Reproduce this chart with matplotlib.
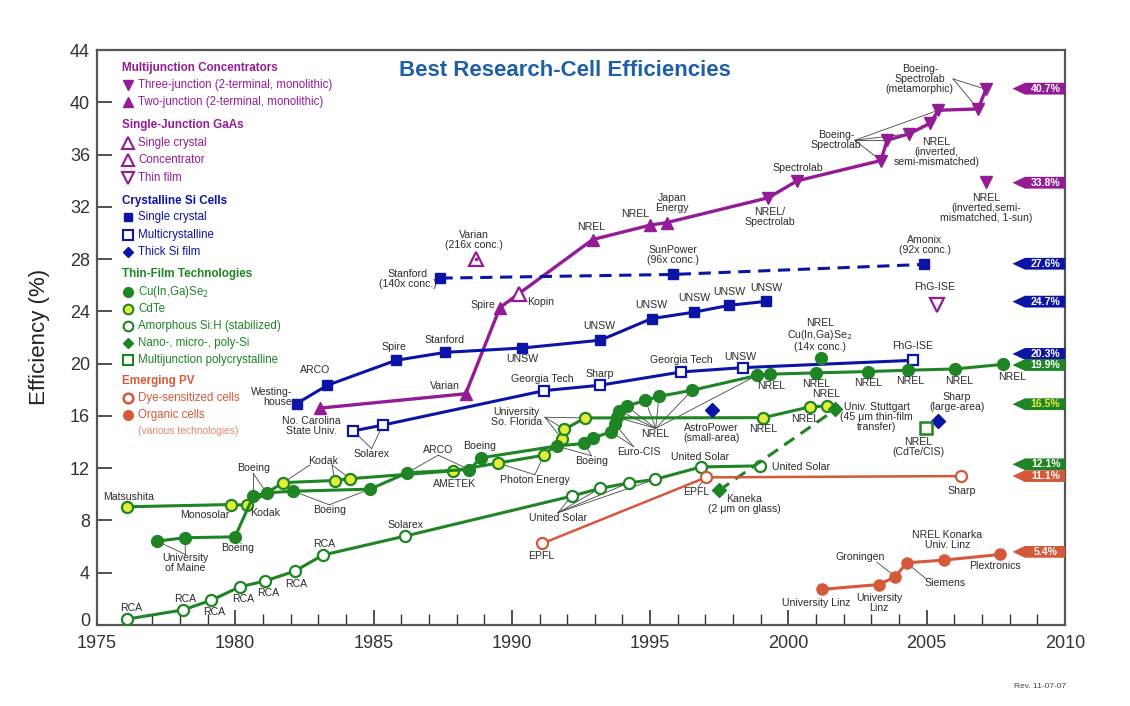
import matplotlib
matplotlib.use("Agg")
import matplotlib.pyplot as plt
from matplotlib import font_manager
from matplotlib.patches import Polygon
from matplotlib.lines import Line2D
from matplotlib.transforms import offset_copy

# pick a narrow Arial-like face if it is there
names = {f.name for f in font_manager.fontManager.ttflist}
NARROW = "Liberation Sans Narrow" if "Liberation Sans Narrow" in names else "Liberation Sans"
plt.rcParams["font.family"] = ["Liberation Sans", "DejaVu Sans"]

# ---- data ----
mj2_year = [1983.06, 1988.33, 1989.57, 1992.92, 1994.99, 1995.6]
mj2_eff = [16.6, 17.7, 24.3, 29.5, 30.6, 30.8]
mj3_year = [1999.27, 2000.32, 2003.34, 2003.57, 2004.37, 2005.12, 2005.42, 2006.86, 2007.14]
mj3_eff = [32.7, 34.0, 35.55, 37.1, 37.6, 38.4, 39.4, 39.5, 41.0]
mj3_1sun_year = [2007.14]
mj3_1sun_eff = [33.9]

gaas_single_year = [1990.26]
gaas_single_eff = [25.3]
gaas_conc_year = [1988.69]
gaas_conc_eff = [28.0]
gaas_thin_year = [2005.37]
gaas_thin_eff = [24.5]

si_single_year = [1982.22, 1983.33, 1985.81, 1987.6, 1990.37, 1993.2, 1995.05, 1996.6, 1997.86, 1999.19]
si_single_eff = [16.95, 18.35, 20.26, 20.87, 21.2, 21.8, 23.45, 23.95, 24.47, 24.77]
si_conc_year = [1987.42, 1995.81, 2004.91]
si_conc_eff = [26.55, 26.83, 27.6]
si_multi_year = [1984.27, 1985.33, 1991.17, 1993.18, 1996.13, 1998.36, 2004.51]
si_multi_eff = [14.86, 15.3, 17.94, 18.35, 19.37, 19.7, 20.26]
si_thick_year = [1997.22, 2005.42]
si_thick_eff = [16.44, 15.6]

cigs_year = [1977.16, 1978.18, 1979.99, 1980.65, 1981.13, 1982.1, 1984.87, 1986.22, 1988.46,
             1988.9, 1991.62, 1992.62, 1992.94, 1993.58, 1993.73, 1993.79, 1993.87, 1994.15,
             1994.83, 1995.32, 1996.52, 1998.86, 1999.33, 2001.01, 2002.88, 2004.33, 2006.04, 2007.75]
cigs_eff = [6.42, 6.68, 6.75, 9.86, 10.12, 10.24, 10.4, 11.65, 11.9,
            12.8, 13.7, 13.9, 14.3, 14.8, 15.4, 15.9, 16.4, 16.75,
            17.2, 17.5, 17.97, 19.1, 19.2, 19.3, 19.4, 19.5, 19.6, 19.95]
cigs_conc_year = [2001.17]
cigs_conc_eff = [20.45]

cdte_year = [1976.1, 1979.83, 1980.41, 1981.74, 1983.6, 1984.15, 1987.88, 1989.5, 1991.16,
             1991.82, 1991.9, 1992.64, 1999.09, 2000.78, 2001.38]
cdte_eff = [9.05, 9.22, 9.17, 10.9, 11.06, 11.2, 11.8, 12.4, 13.0,
            14.2, 14.97, 15.85, 15.87, 16.7, 16.77]

asi_year = [1976.1, 1978.1, 1979.14, 1980.17, 1981.07, 1982.16, 1983.16, 1986.13, 1992.16,
            1993.18, 1994.23, 1995.17, 1996.84, 1998.97]
asi_eff = [0.46, 1.15, 1.9, 2.93, 3.36, 4.13, 5.35, 6.8, 9.86,
           10.45, 10.88, 11.14, 12.1, 12.18]

nano_year = [1997.49, 2001.7]
nano_eff = [10.3, 16.5]
mjpoly_year = [2004.99]
mjpoly_eff = [15.1]

dsc_year = [1991.1, 1997.02, 2006.24]
dsc_eff = [6.24, 11.3, 11.4]
org_year = [2001.22, 2003.28, 2003.87, 2004.27, 2005.63, 2007.65]
org_eff = [2.73, 3.1, 3.7, 4.76, 4.97, 5.4]

record_vals = [40.7, 33.8, 27.6, 24.7, 20.3, 19.9, 16.5, 12.1, 11.1, 5.4]
record_groups = ["mj", "mj", "si", "si", "si", "tf", "tf", "tf", "em", "em"]

PURPLE = "#931C96"
BLUE = "#0C14A6"
GREEN = "#1E8424"
YELLOW = "#E4EE3A"
ORANGE = "#D4583A"
TXT = "#2b2b2b"
group_col = {"mj": PURPLE, "si": BLUE, "tf": GREEN, "em": ORANGE}

fig = plt.figure(figsize=(11.3, 7.06), dpi=100)
ax = fig.add_axes([0.0858, 0.1147, 0.8567, 0.8143])
ax.set_xlim(1975, 2010)
ax.set_ylim(0, 44)

# ---- series ----
ax.plot(mj2_year + mj3_year, mj2_eff + mj3_eff, "-", color=PURPLE, lw=2.4, zorder=3)
ax.plot(mj2_year, mj2_eff, "^", color=PURPLE, ms=9, zorder=4)
ax.plot(mj3_year, mj3_eff, "v", color=PURPLE, ms=9, zorder=4)
ax.plot(mj3_1sun_year, mj3_1sun_eff, "v", color=PURPLE, ms=9, zorder=4)
ax.plot(gaas_single_year, gaas_single_eff, "^", mfc="white", mec=PURPLE, mew=1.6, ms=10, zorder=4)
ax.plot(gaas_conc_year, gaas_conc_eff, "^", mfc="white", mec=PURPLE, mew=1.6, ms=10, zorder=4)
ax.plot(gaas_conc_year, gaas_conc_eff, ".", color=PURPLE, ms=3, zorder=5)
ax.plot(gaas_thin_year, gaas_thin_eff, "v", mfc="white", mec=PURPLE, mew=1.6, ms=10, zorder=4)

ax.plot(si_single_year, si_single_eff, "-s", color=BLUE, lw=2.2, ms=7, zorder=3)
ax.plot(si_conc_year, si_conc_eff, "--s", color=BLUE, lw=2.2, ms=7, dashes=(4, 2.5), zorder=3)
ax.plot(si_multi_year, si_multi_eff, "-s", color=BLUE, lw=2.2, ms=7.5, mfc="white", mew=1.6, zorder=3)
ax.plot(si_thick_year, si_thick_eff, "D", color=BLUE, ms=7, zorder=4)

ax.plot(asi_year, asi_eff, "-o", color=GREEN, lw=2.2, ms=8, mfc="white", mew=1.6, zorder=3)
ax.plot(cdte_year, cdte_eff, "-o", color=GREEN, lw=2.2, ms=8, mfc=YELLOW, mew=1.6, zorder=3)
ax.plot(cigs_year, cigs_eff, "-o", color=GREEN, lw=2.2, ms=8.5, zorder=3)
ax.plot(cigs_conc_year, cigs_conc_eff, "o", color=GREEN, ms=8.5, zorder=4)
ax.plot(nano_year, nano_eff, "--D", color=GREEN, lw=2.2, ms=7, dashes=(4, 2.5), zorder=3)
ax.plot(mjpoly_year, mjpoly_eff, "s", mfc="white", mec=GREEN, mew=1.8, ms=8, zorder=4)

ax.plot(dsc_year, dsc_eff, "-o", color=ORANGE, lw=1.8, ms=8, mfc="white", mew=1.6, zorder=3)
ax.plot(org_year, org_eff, "-o", color=ORANGE, lw=2.2, ms=8, zorder=3)

# ---- point labels ----
labels = [
    ("Westing-\nhouse", 1982.05, 17.45, "right"), ("ARCO", 1982.9, 19.5, "center"),
    ("No. Carolina\nState Univ.", 1982.75, 15.2, "center"), ("Spire", 1985.74, 21.3, "center"),
    ("Stanford", 1987.58, 21.85, "center"), ("UNSW", 1990.37, 20.35, "center"),
    ("UNSW", 1993.16, 22.9, "center"), ("UNSW", 1995.05, 24.5, "center"),
    ("UNSW", 1996.6, 25.0, "center"), ("UNSW", 1997.86, 25.5, "center"),
    ("UNSW", 1999.19, 25.8, "center"), ("Varian", 1987.58, 18.27, "center"),
    ("Spire", 1988.94, 24.46, "center"), ("Kopin", 1991.04, 24.72, "center"),
    ("Stanford\n(140x conc.)", 1986.23, 26.5, "center"), ("Varian\n(216x conc.)", 1988.63, 29.5, "center"),
    ("NREL", 1992.88, 30.45, "center"), ("NREL", 1994.45, 31.42, "center"),
    ("Japan\nEnergy", 1995.8, 32.3, "center"), ("SunPower\n(96x conc.)", 1995.84, 28.3, "center"),
    ("NREL/\nSpectrolab", 1999.31, 31.2, "center"), ("Spectrolab", 2000.35, 35.0, "center"),
    ("Boeing-\nSpectrolab", 2001.72, 37.1, "center"),
    ("Boeing-\nSpectrolab\n(metamorphic)", 2004.75, 41.8, "center"),
    ("NREL\n(inverted,\nsemi-mismatched)", 2005.35, 36.2, "center"),
    ("NREL\n(inverted,semi-\nmismatched, 1-sun)", 2007.16, 31.9, "center"),
    ("Amonix\n(92x conc.)", 2004.93, 29.05, "center"), ("FhG-ISE", 2005.3, 25.9, "center"),
    ("Georgia Tech", 1991.11, 18.86, "center"), ("Sharp", 1993.18, 19.24, "center"),
    ("Georgia Tech", 1996.13, 20.26, "center"), ("UNSW", 1998.25, 20.5, "center"),
    ("NREL\nCu(In,Ga)Se$_2$\n(14x conc.)", 2001.14, 22.17, "center"), ("FhG-ISE", 2004.49, 21.33, "center"),
    ("NREL", 1999.39, 18.3, "center"), ("NREL", 2001.01, 18.48, "center"),
    ("NREL", 2002.9, 18.55, "center"), ("NREL", 2004.41, 18.65, "center"),
    ("NREL", 2006.16, 18.68, "center"), ("NREL", 2008.08, 18.96, "center"),
    ("NREL", 1999.09, 15.04, "center"), ("NREL", 2000.62, 15.75, "center"),
    ("NREL", 2001.35, 17.71, "center"),
    ("Univ. Stuttgart\n(45 \u03bcm thin-film\ntransfer)", 2003.19, 15.93, "center"),
    ("AstroPower\n(small-area)", 1997.22, 14.73, "center"), ("Sharp\n(large-area)", 2006.1, 17.08, "center"),
    ("NREL\n(CdTe/CIS)", 2004.69, 13.63, "center"), ("United Solar", 1996.8, 12.87, "center"),
    ("United Solar", 1999.4, 12.1, "left"), ("EPFL", 1996.65, 10.2, "center"),
    ("Kaneka\n(2 \u03bcm on glass)", 1998.4, 9.25, "center"), ("Sharp", 2006.26, 10.27, "center"),
    ("NREL Konarka\nUniv. Linz", 2005.74, 6.5, "center"), ("Groningen", 2002.61, 5.22, "center"),
    ("Siemens", 2005.66, 3.19, "center"), ("University Linz", 2001.01, 1.71, "center"),
    ("University\nLinz", 2003.28, 1.71, "center"), ("Plextronics", 2007.47, 4.53, "center"),
    ("EPFL", 1991.07, 5.28, "center"), ("United Solar", 1991.67, 8.16, "center"),
    ("Solarex", 1986.17, 7.65, "center"), ("Photon Energy", 1990.83, 11.09, "center"),
    ("AMETEK", 1987.94, 10.83, "center"), ("ARCO", 1987.34, 13.38, "center"),
    ("Boeing", 1988.85, 13.68, "center"), ("University\nSo. Florida", 1990.17, 15.93, "center"),
    ("Boeing", 1992.88, 12.54, "center"), ("Euro-CIS", 1994.6, 13.25, "center"),
    ("NREL", 1995.2, 14.65, "center"), ("Matsushita", 1976.13, 9.81, "center"),
    ("Monosolar", 1978.9, 8.41, "center"), ("Kodak", 1981.07, 8.54, "center"),
    ("Boeing", 1980.07, 5.86, "center"), ("University\nof Maine", 1978.2, 4.72, "center"),
    ("Boeing", 1980.65, 11.98, "center"), ("Kodak", 1983.16, 12.56, "center"),
    ("Boeing", 1983.4, 8.79, "center"), ("RCA", 1976.23, 1.27, "center"),
    ("RCA", 1978.18, 1.96, "center"), ("RCA", 1979.24, 1.02, "center"),
    ("RCA", 1980.27, 1.96, "center"), ("RCA", 1981.19, 2.42, "center"),
    ("RCA", 1982.22, 3.13, "center"), ("RCA", 1983.22, 6.19, "center"),
    ("Solarex", 1984.93, 13.07, "center"),
]
for txt, x, y, ha in labels:
    ax.text(x, y, txt, ha=ha, va="center", ma=ha, fontsize=7.6, family=NARROW,
            color=TXT, linespacing=1.0, zorder=6)

leaders = [
    ((1978.2, 5.4), (1977.16, 6.42)), ((1978.2, 5.4), (1978.18, 6.68)),
    ((1980.65, 11.6), (1980.65, 9.86)), ((1980.65, 11.6), (1981.13, 10.12)),
    ((1982.7, 12.25), (1981.74, 10.9)), ((1983.5, 12.25), (1983.6, 11.06)), ((1983.5, 12.25), (1984.15, 11.2)),
    ((1983.4, 9.2), (1982.1, 10.24)), ((1983.4, 9.2), (1984.87, 10.4)),
    ((1984.93, 13.5), (1984.27, 14.86)), ((1984.93, 13.5), (1985.33, 15.3)),
    ((1987.34, 13.0), (1986.22, 11.65)), ((1987.34, 13.0), (1988.46, 11.9)),
    ((1990.83, 11.5), (1989.5, 12.4)), ((1990.83, 11.5), (1991.16, 13.0)),
    ((1991.2, 15.9), (1991.82, 14.2)), ((1991.2, 15.9), (1991.9, 14.97)), ((1991.2, 15.9), (1992.64, 15.85)),
    ((1992.88, 12.95), (1991.62, 13.7)), ((1992.88, 12.95), (1992.62, 13.9)),
    ((1994.4, 13.65), (1993.58, 14.8)), ((1994.4, 13.65), (1993.73, 15.4)),
    ((1995.2, 15.05), (1993.79, 15.9)), ((1995.2, 15.05), (1993.87, 16.4)),
    ((1995.2, 15.05), (1994.15, 16.75)), ((1995.2, 15.05), (1994.83, 17.2)),
    ((1995.2, 15.05), (1995.32, 17.5)), ((1995.2, 15.05), (1996.52, 17.97)),
    ((1995.2, 15.05), (1998.86, 19.1)),
    ((1991.67, 8.6), (1992.16, 9.86)), ((1991.67, 8.6), (1993.18, 10.45)),
    ((1991.67, 8.6), (1994.23, 10.88)), ((1991.67, 8.6), (1995.17, 11.14)),
    ((1996.75, 10.6), (1997.02, 11.3)),
    ((2002.4, 37.1), (2003.34, 35.55)), ((2002.4, 37.1), (2003.57, 37.1)),
    ((2002.4, 37.1), (2004.37, 37.6)), ((2002.4, 37.1), (2005.42, 39.4)),
    ((2005.95, 41.8), (2006.86, 39.5)), ((2005.95, 41.8), (2007.14, 41.0)),
    ((2003.2, 4.8), (2003.87, 3.7)), ((2005.0, 3.5), (2004.27, 4.76)),
]
for (x0, y0), (x1, y1) in leaders:
    ax.add_line(Line2D([x0, x1], [y0, y1], color="#444444", lw=0.6, zorder=2))

# ---- record tags on the right ----
tag_shift = {20.3: 0.45, 19.9: 0.0, 12.1: 0.2, 11.1: 0.3, 16.5: 0.4, 5.4: 0.2, 40.7: 0.35}
for v, g in zip(record_vals, record_groups):
    y = v + tag_shift.get(v, 0.05)
    col = group_col[g]
    ax.add_patch(Polygon([(2010, y - 0.45), (2008.55, y - 0.45), (2008.1, y),
                          (2008.55, y + 0.45), (2010, y + 0.45)],
                         closed=True, fc=col, ec="none", zorder=5, clip_on=False))
    ax.text(2009.3, y, f"{v}%", ha="center", va="center", fontsize=7.6, fontweight="bold",
            color=YELLOW if v == 16.5 else "white", zorder=6)

# ---- legend block ----
legend_rows = [
    ("h", "Multijunction Concentrators", PURPLE, None),
    ("i", "Three-junction (2-terminal, monolithic)", PURPLE, dict(marker="v", color=PURPLE, ms=7)),
    ("i", "Two-junction (2-terminal, monolithic)", PURPLE, dict(marker="^", color=PURPLE, ms=7)),
    ("h", "Single-Junction GaAs", PURPLE, None),
    ("i", "Single crystal", PURPLE, dict(marker="^", mfc="white", mec=PURPLE, mew=1.5, ms=8)),
    ("i", "Concentrator", PURPLE, dict(marker="^", mfc="white", mec=PURPLE, mew=1.5, ms=8)),
    ("i", "Thin film", PURPLE, dict(marker="v", mfc="white", mec=PURPLE, mew=1.5, ms=8)),
    ("h", "Crystalline Si Cells", BLUE, None),
    ("i", "Single crystal", BLUE, dict(marker="s", color=BLUE, ms=5.5)),
    ("i", "Multicrystalline", BLUE, dict(marker="s", mfc="white", mec=BLUE, mew=1.5, ms=6.5)),
    ("i", "Thick Si film", BLUE, dict(marker="D", color=BLUE, ms=5.5)),
    ("h", "Thin-Film Technologies", GREEN, None),
    ("i", "Cu(In,Ga)Se$_2$", GREEN, dict(marker="o", color=GREEN, ms=7)),
    ("i", "CdTe", GREEN, dict(marker="o", mfc=YELLOW, mec=GREEN, mew=1.5, ms=7)),
    ("i", "Amorphous Si:H (stabilized)", GREEN, dict(marker="o", mfc="white", mec=GREEN, mew=1.5, ms=7)),
    ("i", "Nano-, micro-, poly-Si", GREEN, dict(marker="D", color=GREEN, ms=5.5)),
    ("i", "Multijunction polycrystalline", GREEN, dict(marker="s", mfc="white", mec=GREEN, mew=1.5, ms=7)),
    ("h", "Emerging PV", ORANGE, None),
    ("i", "Dye-sensitized cells", ORANGE, dict(marker="o", mfc="white", mec=ORANGE, mew=1.8, ms=7)),
    ("i", "Organic cells", ORANGE, dict(marker="o", color=ORANGE, ms=7)),
    ("s", "(various technologies)", ORANGE, None),
]
# row heights of the legend block, in axes fraction
legend_y = [0.969, 0.939, 0.910, 0.870, 0.838, 0.809, 0.777, 0.737, 0.710, 0.678, 0.649,
            0.610, 0.579, 0.550, 0.520, 0.490, 0.461, 0.424, 0.395, 0.365, 0.337]
for (kind, txt, col, mk), ly in zip(legend_rows, legend_y):
    if kind == "h":
        ax.text(0.026, ly, txt, transform=ax.transAxes, fontsize=8.4, fontweight="bold",
                color=col, va="center", ha="left", family=NARROW, zorder=6)
    elif kind == "i":
        ax.plot([0.032], [ly], transform=ax.transAxes, ls="none", zorder=6, clip_on=False, **mk)
        ax.text(0.0425, ly, txt, transform=ax.transAxes, fontsize=8.3, color=col,
                va="center", ha="left", family=NARROW, zorder=6)
    else:
        ax.text(0.0425, ly, txt, transform=ax.transAxes, fontsize=7.4, color="#D88A70",
                va="center", ha="left", family=NARROW, zorder=6)

ax.text(0.4835, 0.965, "Best Research-Cell Efficiencies", transform=ax.transAxes,
        fontsize=16, fontweight="bold", color="#1F5EA8", ha="center", va="center")

# ---- axes styling ----
ax.set_xticks(range(1975, 2011, 5))
ax.set_xticks(range(1975, 2011), minor=True)
ax.set_yticks(range(0, 45, 4))
ax.tick_params(axis="both", which="major", direction="in", length=11, width=1.2,
               labelsize=13, colors="#333333")
ax.tick_params(axis="x", which="major", pad=7)
ax.tick_params(axis="y", which="major", pad=5)
ax.tick_params(axis="x", which="minor", direction="in", length=8, width=1.0, color="#333333")
ax.tick_params(top=False, right=False, which="both")
fig.canvas.draw()
# the "0" sits a little above the corner, as in the original
zero_lab = ax.get_yticklabels()[0]
zero_lab.set_transform(offset_copy(zero_lab.get_transform(), fig=fig, y=6, units="dots"))
for s in ax.spines.values():
    s.set_color("#555555")
    s.set_linewidth(1.6)
fig.text(0.035, 0.523, "Efficiency (%)", rotation=90, fontsize=16, color="#222222",
         ha="center", va="center")
fig.text(0.92, 0.025, "Rev. 11-07-07", fontsize=6, color="#444444", ha="center", family=NARROW)

fig.savefig("out.png", dpi=100)
